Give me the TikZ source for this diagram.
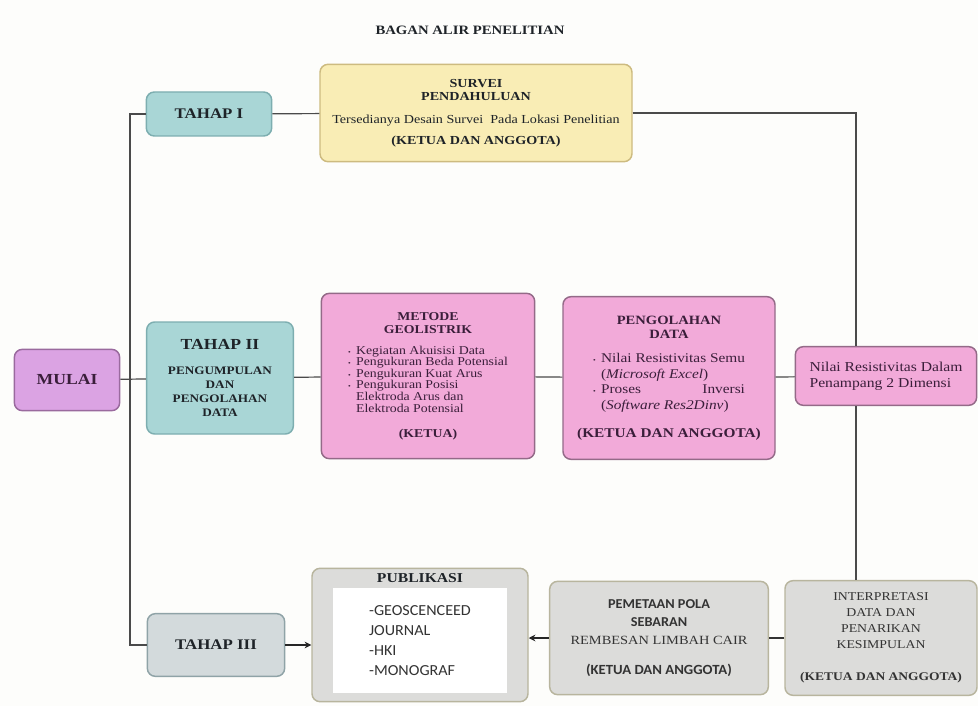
\documentclass[tikz,border=0pt]{standalone}
\usepackage{fontspec}
\setmainfont[FakeStretch=1.15]{Liberation Serif}
\newfontfamily\calib[FakeStretch=1.05]{Carlito}
\usepackage{calc}
\usetikzlibrary{positioning,arrows.meta}

\definecolor{paper}{HTML}{FDFDFB}
\definecolor{ink}{HTML}{1E2328}
\definecolor{plum}{HTML}{3A1E3A}
\definecolor{tealfill}{HTML}{A9D6D6}
\definecolor{tealedge}{HTML}{7DAEB0}
\definecolor{yelfill}{HTML}{F9EDB5}
\definecolor{yeledge}{HTML}{CDBB80}
\definecolor{viofill}{HTML}{DBA3E3}
\definecolor{vioedge}{HTML}{9A6A9E}
\definecolor{pinkfill}{HTML}{F2AAD9}
\definecolor{pinkedge}{HTML}{946A88}
\definecolor{greyfill}{HTML}{DCDCDA}
\definecolor{greyedge}{HTML}{B8B59E}
\definecolor{bluegrey}{HTML}{D3DADC}
\definecolor{bgedge}{HTML}{8FA3A7}
\definecolor{linegray}{HTML}{4A4A4A}

\begin{document}
\begin{tikzpicture}[
  x=0.75pt,y=-0.75pt,
  >={Stealth[length=5pt,width=5pt]},
  box/.style={draw,rounded corners=6pt,line width=1.1pt,align=center,inner sep=3pt,text=ink},
  tahap/.style={box,fill=tealfill,draw=tealedge,font=\bfseries\fontsize{11}{13}\selectfont},
  survbox/.style={box,fill=yelfill,draw=yeledge,font=\fontsize{9.2}{10}\selectfont},
  startbox/.style={box,fill=viofill,draw=vioedge,text=plum,font=\bfseries\fontsize{11.5}{13}\selectfont},
  pinkbox/.style={box,fill=pinkfill,draw=pinkedge,text=plum,font=\fontsize{9}{10}\selectfont},
  greybox/.style={box,fill=greyfill,draw=greyedge,text=black!80,font=\fontsize{9}{12}\selectfont},
  conn/.style={draw=linegray,line width=0.9pt},
  arr/.style={->,draw=black!85,line width=1.8pt},
]
% canvas
\fill[paper] (0,0) rectangle (978,706);
\useasboundingbox (0,0) rectangle (978,706);

\node[font=\bfseries\fontsize{9.6}{11}\selectfont,text=ink] (judul) at (470,30) {BAGAN ALIR PENELITIAN};

% left column
\node[startbox,minimum width=79pt,minimum height=46pt] (mulai) at (67,380) {MULAI};
\node[tahap,minimum width=94pt,minimum height=33pt] (t1) at (209,114) {TAHAP I};
\node[tahap,minimum width=110pt,minimum height=84pt,font=\bfseries\fontsize{8.6}{10.5}\selectfont] (t2) at (220,378)
  {{\fontsize{11.5}{13}\selectfont TAHAP II}\\[8pt]PENGUMPULAN\\DAN\\PENGOLAHAN\\DATA};
\node[tahap,fill=bluegrey,draw=bgedge,minimum width=103pt,minimum height=47pt] (t3) at (216,645) {TAHAP III};

% tahap I row
\node[survbox,minimum width=234pt,minimum height=73pt] (survei) at (476,113)
  {\textbf{SURVEI}\\\textbf{PENDAHULUAN}\\[7pt]Tersedianya Desain Survei\ \ Pada Lokasi Penelitian\\[6pt]\textbf{(KETUA DAN ANGGOTA)}};

% tahap II row
\node[pinkbox,minimum width=160pt,minimum height=124pt] (metode) at (428,376)
  {\textbf{METODE}\\\textbf{GEOLISTRIK}\\[8pt]
   \renewcommand\arraystretch{0.82}%
   \begin{tabular}{@{}c@{\hspace{4pt}}l@{}}
   {\tiny\textbullet} & Kegiatan Akuisisi Data\\
   {\tiny\textbullet} & Pengukuran Beda Potensial\\
   {\tiny\textbullet} & Pengukuran Kuat Arus\\
   {\tiny\textbullet} & Pengukuran Posisi\\
                      & Elektroda Arus dan\\
                      & Elektroda Potensial
   \end{tabular}\\[9pt]
   \textbf{(KETUA)}};
\node[pinkbox,minimum width=159pt,minimum height=122pt,font=\fontsize{10}{11}\selectfont] (olah) at (669,378)
  {{\fontsize{9.5}{11}\selectfont\textbf{PENGOLAHAN}}\\{\fontsize{9.5}{11}\selectfont\textbf{DATA}}\\[9pt]
   \renewcommand\arraystretch{1.05}%
   \begin{tabular}{@{}c@{\hspace{4pt}}l@{}}
   {\tiny\textbullet} & Nilai Resistivitas Semu\\
                      & (\textit{Microsoft Excel})\\
   {\tiny\textbullet} & \makebox[\widthof{Nilai Resistivitas Semu}][s]{Proses\hfill Inversi}\\
                      & (\textit{Software Res2Dinv})
   \end{tabular}\\[10pt]
   \textbf{(KETUA DAN ANGGOTA)}};
\node[pinkbox,align=left,minimum width=136pt,minimum height=44pt,font=\fontsize{10.2}{12}\selectfont] (nilai) at (886,376)
  {Nilai Resistivitas Dalam\\Penampang 2 Dimensi};

% tahap III row
\node[greybox,minimum width=162pt,minimum height=100pt] (publik) at (420,635) {};
\node[font=\bfseries\fontsize{10.2}{11}\selectfont,text=ink,below=1pt of publik.north] (pubjudul) {PUBLIKASI};
\node[fill=white,align=left,minimum width=131pt,minimum height=79pt,inner sep=2pt,
      font=\calib\fontsize{11.5}{15}\selectfont,text=black!80,below=0pt of pubjudul] (publist)
  {-GEOSCENCEED\\JOURNAL\\-HKI\\-MONOGRAF};
\node[greybox,minimum width=164pt,minimum height=85pt,font=\fontsize{9}{13.5}\selectfont] (peta) at (659,638)
  {{\calib\bfseries\fontsize{10.2}{13.5}\selectfont PEMETAAN POLA}\\{\calib\bfseries\fontsize{10.2}{13.5}\selectfont SEBARAN}\\{\fontsize{9.4}{13.5}\selectfont REMBESAN LIMBAH CAIR}\\[9pt]{\calib\bfseries\fontsize{10.5}{13.5}\selectfont (KETUA DAN ANGGOTA)}};
\node[greybox,minimum width=144pt,minimum height=86pt] (interp) at (881,638)
  {INTERPRETASI\\DATA DAN\\PENARIKAN\\KESIMPULAN\\[12pt]{\bfseries\fontsize{8.8}{10}\selectfont (KETUA DAN ANGGOTA)}};

% spines
\coordinate (lspine) at (130,380);
\coordinate (rspine) at (856,376);

% connectors
\draw[conn] (t1.west) -| (lspine) |- (t3.west);
\draw[conn] (mulai) -- (t2);
\draw[conn] (t1) -- (survei);
\draw[conn] (survei.east) -| (rspine |- nilai.north);
\draw[conn] (rspine |- nilai.south) -- (rspine |- interp.north);
\draw[conn] (t2) -- (metode);
\draw[conn] (metode) -- (olah);
\draw[conn] (olah) -- (nilai);
\draw[conn,line width=1.6pt,draw=black!80] (interp) -- (peta);
\draw[arr] (peta.west) -- (peta.west -| publik.east);
\draw[arr] (t3.east) -- (t3.east -| publik.west);
\end{tikzpicture}
\end{document}
